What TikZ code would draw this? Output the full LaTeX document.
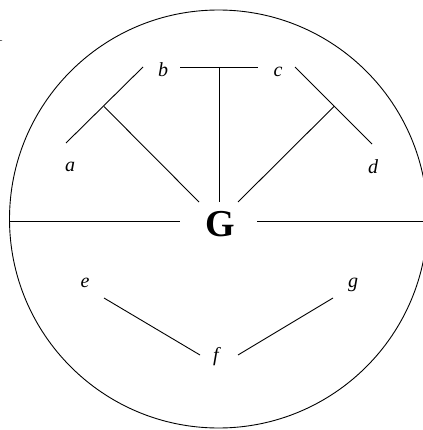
\documentclass[tikz,border=0pt]{standalone}
\usepackage{fontspec}
\setmainfont{Liberation Serif}
\begin{document}
\begin{tikzpicture}[x=1pt,y=-1pt,
  lbl/.style={inner sep=0pt, font=\fontsize{20}{20}\selectfont\itshape},
  big/.style={inner sep=0pt, font=\fontsize{38}{38}\selectfont\bfseries},
  ln/.style={line width=0.9pt, black}]
\useasboundingbox (0,0) rectangle (422,430);
% outer circle
\draw[ln] (218.5,219) circle[radius=209];
% labels
\node[inner sep=0pt, font=\fontsize{18}{18}\selectfont, anchor=base east] (one) at (3.5,42) {1};
\node[lbl] (a) at (70,167) {a};
\node[lbl] (b) at (163,70) {b};
\node[lbl] (c) at (278,72) {c};
\node[lbl] (d) at (373,167) {d};
\node[lbl] (e) at (85,283) {e};
\node[lbl] (f) at (216,357) {f};
\node[lbl] (g) at (353,285) {g};
\node[big] (G) at (220,224.5) {G};
% line end points
\coordinate (bcL) at (180,67);
\coordinate (bcR) at (258,67);
\coordinate (bcM) at (219,67);
\coordinate (Gt) at (219,202);
\coordinate (abT) at (143,67);
\coordinate (abB) at (66,143);
\coordinate (jL) at (104,106.5);
\coordinate (GL) at (199,202);
\coordinate (cdT) at (295,67);
\coordinate (cdB) at (372,144);
\coordinate (jR) at (334,106.5);
\coordinate (GR) at (238,202);
\coordinate (hL1) at (9.5,221.5);
\coordinate (hL2) at (180,221.5);
\coordinate (hR1) at (257,221.5);
\coordinate (hR2) at (430,221.5);
\coordinate (ef1) at (104,298);
\coordinate (ef2) at (200,355);
\coordinate (gf1) at (333,298);
\coordinate (gf2) at (238,355);
% connectors
\draw[ln] (bcL) -- (bcR);
\draw[ln] (bcM) -- (Gt);
\draw[ln] (abT) -- (abB);
\draw[ln] (jL) -- (GL);
\draw[ln] (cdT) -- (cdB);
\draw[ln] (jR) -- (GR);
\draw[ln] (hL1) -- (hL2);
\draw[ln] (hR1) -- (hR2);
\draw[ln] (ef1) -- (ef2);
\draw[ln] (gf1) -- (gf2);
\end{tikzpicture}
\end{document}
